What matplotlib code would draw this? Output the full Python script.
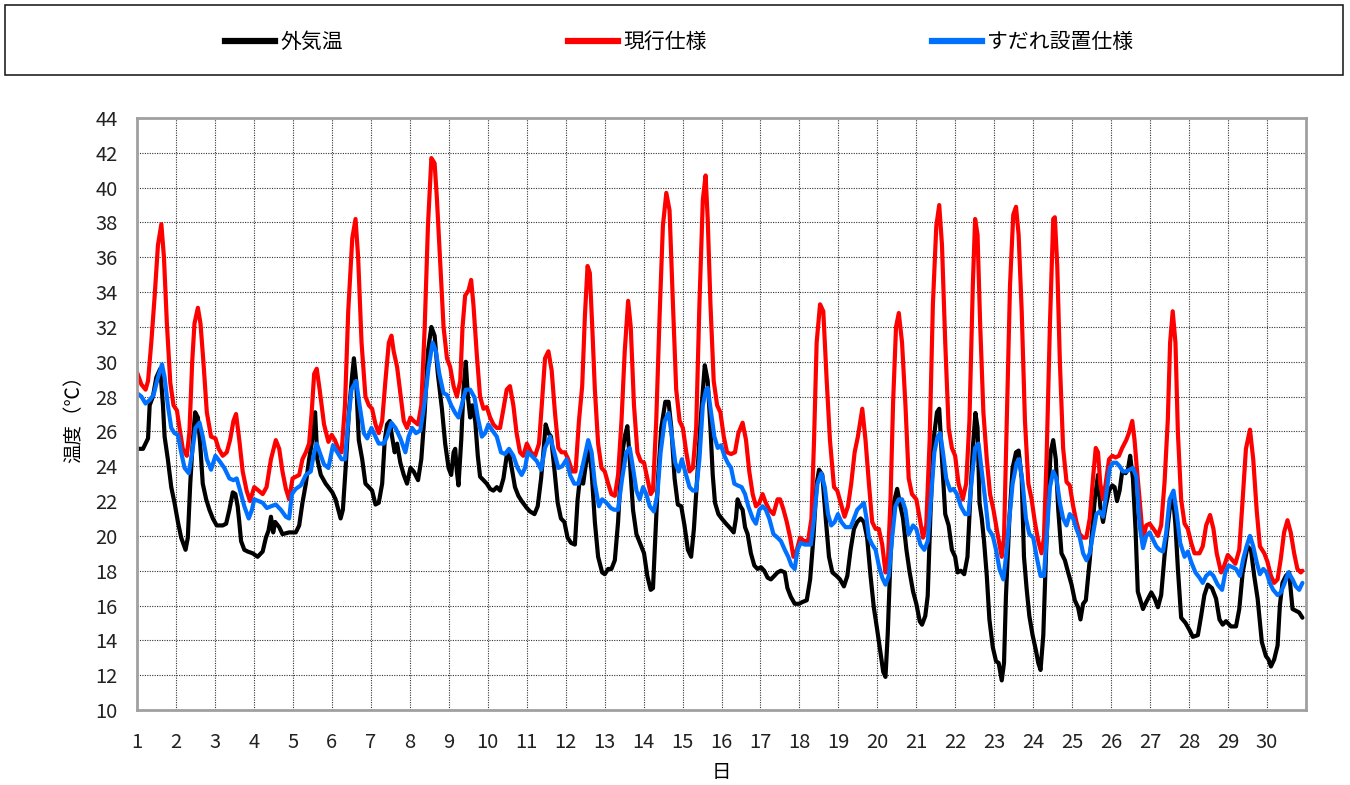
import matplotlib
matplotlib.use('Agg')
import matplotlib.pyplot as plt
from matplotlib.patches import Rectangle
from matplotlib.lines import Line2D

plt.rcParams['font.family'] = ['Noto Sans CJK JP', 'DejaVu Sans']

# ---- data: hours from day 1 00:00, temperature (°C) ----
outdoor_h = [0, 3.7, 6.8, 7.8, 9.8, 11.9, 14.3, 16.0, 17.0, 19.0, 21.1, 23.1, 25.2, 27.2, 29.9, 31.3, 32.8, 34.4, 35.8, 37.5,
             38.9, 40.5, 42.6, 44.6, 46.7, 49.1, 52.8, 54.9, 56.9, 59.0, 60.6, 62.0, 63.0, 64.1, 66.1, 68.2, 71.2, 74.3, 77.4, 79.4,
             81.0, 82.5, 83.9, 85.1, 87.6, 89.6, 93.7, 97.8, 99.9, 101.9, 104.0, 106.0, 107.6, 109.7, 111.1, 113.2, 116.2, 120.3, 122.3, 124.0,
             125.4, 126.8, 128.5, 130.5, 132.6, 133.6, 135.0, 136.6, 138.7, 140.7, 142.8, 144.8, 146.9, 148.9, 151.0, 152.6, 154.0, 155.7, 157.1, 158.7,
             160.2, 162.2, 164.3, 166.3, 168.4, 170.4, 173.1, 175.1, 177.2, 179.2, 181.3, 183.3, 185.3, 187.8, 189.8, 191.9, 193.5, 195.0, 196.0, 197.0,
             198.0, 199.7, 201.1, 202.5, 203.8, 205.2, 206.6, 208.3, 209.9, 211.3, 213.4, 215.4, 217.5, 219.5, 221.6, 223.6, 225.7, 227.7, 229.1, 230.8,
             232.8, 234.9, 236.9, 240.1, 242.1, 244.8, 246.8, 248.9, 250.3, 251.7, 253.4, 255.0, 257.0, 259.1, 261.1, 263.2, 265.2, 267.3, 269.7, 271.4,
             272.8, 274.8, 276.9, 278.3, 280.0, 282.0, 284.0, 286.5, 288.1, 290.2, 292.2, 294.3, 296.3, 298.4, 300.4, 302.0, 303.5, 305.5, 307.6, 310.2,
             312.3, 314.3, 316.4, 317.8, 319.2, 320.9, 322.9, 325.4, 327.4, 329.1, 331.1, 333.1, 335.2, 337.2, 339.3, 341.3, 343.0, 345.0, 347.1, 349.7,
             351.5, 353.2, 354.6, 356.0, 358.1, 360.1, 362.8, 364.8, 367.5, 368.9, 369.9, 371.6, 373.0, 374.5, 376.1, 378.1, 380.2, 382.2, 384.3, 386.3,
             388.4, 390.4, 392.5, 394.5, 396.6, 399.0, 400.6, 402.7, 405.1, 407.8, 409.8, 412.5, 414.6, 416.6, 418.6, 420.1, 422.1, 424.2, 426.2, 428.3,
             430.9, 433.0, 435.4, 437.5, 439.5, 441.6, 443.6, 445.7, 447.7, 449.7, 451.8, 453.8, 455.9, 457.9, 459.6, 461.0, 462.4, 464.1, 466.1, 468.2,
             469.8, 471.8, 473.9, 475.9, 478.0, 480.0, 482.1, 483.5, 485.5, 487.0, 488.6, 490.6, 492.7, 494.1, 495.8, 497.8, 499.9, 501.9, 503.9, 505.4,
             507.4, 509.5, 511.5, 513.2, 514.8, 516.4, 517.7, 518.9, 520.3, 521.7, 523.4, 525.0, 527.1, 529.1, 530.7, 532.6, 534.0, 535.2, 537.3, 539.3,
             541.4, 543.0, 544.9, 546.3, 547.9, 549.6, 551.6, 553.7, 555.1, 556.5, 558.2, 559.8, 561.2, 562.7, 564.3, 565.9, 567.4, 569.4, 571.5, 573.5,
             575.6, 577.6, 579.6, 581.1, 582.7, 584.4, 586.8, 588.4, 589.9, 591.9, 593.3, 595.0, 596.6, 598.7, 600.7, 602.1, 603.6, 605.2, 606.8, 608.9,
             610.3, 611.7, 613.4, 615.0, 616.4, 619.6, 621.6, 624.7, 626.8, 628.8, 630.8, 632.9, 636.0, 638.0, 639.6, 641.1, 643.1, 645.8, 648.2, 650.3,
             653.4, 655.4, 657.4, 659.5, 662.1, 664.6, 666.7, 668.7, 670.7, 673.8, 676.9, 678.9, 681.0, 684.0, 686.1, 688.1, 690.2, 692.8, 695.3, 696.9,
             698.4, 700.4, 702.5, 703.9, 705.5, 707.6, 709.6, 711.7, 713.7, 715.8, 717.8]
outdoor_t = [25.0, 25.0, 25.6, 27.5, 28.0, 29.1, 29.6, 27.5, 25.7, 24.4, 22.8, 21.9, 20.8, 19.9, 19.2, 19.9, 23.0, 25.5, 27.1, 26.8,
             25.3, 23.0, 22.1, 21.5, 21.0, 20.6, 20.6, 20.7, 21.5, 22.5, 22.4, 21.7, 20.8, 19.7, 19.2, 19.1, 19.0, 18.8, 19.1, 19.9,
             20.3, 21.1, 20.2, 20.8, 20.5, 20.1, 20.2, 20.2, 20.6, 21.9, 23.0, 24.4, 25.3, 27.1, 24.4, 23.5, 23.0, 22.5, 22.1, 21.5,
             21.0, 21.5, 23.9, 27.1, 29.3, 30.2, 28.9, 25.5, 24.4, 23.0, 22.8, 22.6, 21.8, 21.9, 23.0, 25.5, 26.4, 26.6, 25.7, 24.8,
             25.3, 24.2, 23.5, 23.0, 23.9, 23.7, 23.2, 24.4, 27.1, 30.6, 32.0, 31.5, 29.3, 27.3, 25.3, 23.9, 23.5, 24.8, 25.0, 23.7,
             22.9, 25.5, 28.4, 30.0, 28.0, 26.8, 27.5, 26.6, 24.6, 23.4, 23.2, 23.0, 22.7, 22.6, 22.8, 22.6, 23.3, 24.6, 24.8, 23.9,
             22.8, 22.3, 22.0, 21.6, 21.4, 21.25, 21.7, 23.3, 24.8, 26.4, 25.9, 25.7, 23.9, 21.9, 21.0, 20.8, 19.9, 19.6, 19.5, 22.1,
             23.3, 23.0, 24.4, 25.05, 23.7, 20.8, 18.8, 17.9, 17.8, 18.1, 18.1, 18.6, 20.8, 24.4, 25.7, 26.3, 24.4, 21.5, 20.1, 19.5,
             19.0, 17.7, 16.9, 17.0, 19.9, 23.3, 26.2, 27.7, 27.7, 26.2, 23.3, 21.8, 21.7, 20.6, 19.2, 18.8, 20.4, 23.3, 26.6, 29.8,
             28.9, 26.2, 23.5, 21.9, 21.25, 21.0, 20.7, 20.5, 20.2, 21.0, 22.1, 21.7, 21.5, 20.5, 20.1, 19.0, 18.3, 18.1, 18.2, 18.0,
             17.6, 17.5, 17.7, 17.9, 18.0, 17.9, 17.0, 16.5, 16.1, 16.1, 16.2, 16.3, 17.5, 19.9, 23.0, 23.8, 23.5, 21.0, 18.8, 17.9,
             17.7, 17.5, 17.1, 17.7, 19.2, 20.4, 20.8, 21.0, 20.8, 19.9, 17.7, 15.9, 14.6, 13.3, 12.2, 11.9, 14.4, 18.8, 21.9, 22.7,
             21.9, 21.0, 19.2, 17.9, 16.8, 16.1, 15.1, 14.9, 15.4, 16.55, 21.0, 25.5, 27.1, 27.3, 24.4, 21.25, 20.6, 19.2, 18.8, 17.9,
             18.0, 17.8, 18.8, 22.1, 25.05, 27.06, 26.2, 21.9, 21.0, 19.7, 17.7, 15.2, 13.6, 12.8, 12.7, 11.7, 12.7, 16.55, 21.0, 23.9,
             24.8, 24.9, 23.3, 18.8, 17.0, 15.4, 14.3, 13.4, 12.7, 12.3, 14.3, 18.8, 22.1, 24.8, 25.5, 24.4, 21.5, 19.0, 18.6, 17.9,
             17.2, 16.3, 15.9, 15.2, 16.1, 16.3, 18.6, 20.4, 22.1, 23.5, 21.7, 20.8, 21.7, 22.6, 22.9, 22.8, 22.0, 22.6, 23.7, 23.6,
             23.8, 24.6, 23.3, 20.4, 16.8, 15.8, 16.2, 16.75, 16.4, 15.9, 16.6, 18.9, 21.5, 22.4, 20.6, 18.1, 15.3, 15.0, 14.6, 14.2,
             14.3, 15.4, 16.6, 17.2, 17.0, 16.4, 15.2, 14.9, 15.1, 14.8, 14.8, 15.8, 17.9, 19.4, 19.2, 17.7, 16.4, 13.9, 13.1, 12.9,
             12.5, 12.9, 13.7, 16.0, 17.3, 17.7, 17.9, 15.8, 15.7, 15.6, 15.3]

current_h = [0, 2.7, 5.3, 6.8, 8.8, 10.9, 12.9, 15.0, 16.6, 18.4, 20.5, 22.5, 24.6, 26.2, 28.2, 30.7, 32.3, 34.0, 35.4, 37.5,
             39.1, 40.9, 43.0, 45.6, 48.3, 50.3, 52.8, 55.3, 57.3, 59.4, 61.0, 63.0, 65.1, 67.5, 69.6, 72.2, 74.9, 77.4, 79.8, 82.5,
             85.5, 87.6, 89.6, 91.7, 93.7, 95.8, 97.8, 99.9, 101.9, 104.0, 106.0, 107.6, 109.1, 110.7, 112.5, 115.2, 117.9, 119.9, 121.9, 124.0,
             126.0, 128.1, 130.1, 132.6, 134.6, 136.2, 138.3, 140.7, 142.8, 144.8, 146.9, 148.9, 151.0, 153.0, 155.1, 156.7, 158.1, 160.2, 162.2, 164.3,
             166.3, 168.4, 170.4, 173.1, 175.1, 177.2, 179.2, 181.3, 183.3, 184.7, 186.8, 188.8, 190.9, 192.9, 195.0, 197.0, 199.1, 200.5, 202.1, 204.2,
             205.8, 207.2, 209.3, 211.3, 213.4, 215.4, 217.5, 219.5, 221.6, 223.6, 225.7, 227.7, 229.7, 231.8, 233.8, 235.9, 237.9, 240.1, 242.7, 245.2,
             247.6, 249.3, 251.3, 253.4, 255.4, 257.4, 259.5, 261.5, 263.6, 265.6, 268.1, 270.1, 272.2, 274.2, 275.9, 277.5, 278.9, 280.4, 282.0, 284.0,
             286.1, 288.1, 290.2, 292.2, 294.3, 296.3, 298.4, 300.4, 302.5, 304.1, 306.1, 308.2, 310.2, 312.3, 314.3, 316.4, 317.8, 319.8, 321.9, 323.9,
             326.0, 328.0, 330.1, 332.1, 334.2, 336.2, 338.3, 340.3, 342.4, 344.4, 346.4, 348.5, 350.2, 351.5, 353.2, 355.2, 357.3, 359.3, 361.4, 363.4,
             365.9, 368.3, 370.4, 373.0, 375.1, 377.1, 379.2, 381.2, 383.3, 385.3, 387.3, 389.4, 392.0, 394.5, 396.1, 398.2, 400.2, 402.3, 404.3, 406.4,
             408.4, 410.9, 413.3, 415.4, 417.0, 418.6, 420.7, 422.7, 424.8, 426.8, 429.3, 431.3, 433.4, 435.8, 437.9, 439.9, 442.0, 444.0, 446.7, 448.7,
             450.8, 452.8, 454.9, 456.9, 459.0, 461.0, 462.4, 464.1, 465.7, 467.5, 469.2, 471.2, 473.3, 475.3, 477.3, 480.0, 482.1, 484.1, 486.1, 488.2,
             490.2, 492.3, 494.1, 495.8, 497.8, 499.9, 501.9, 503.9, 506.0, 508.6, 510.7, 512.7, 514.8, 516.2, 517.7, 519.3, 521.3, 523.4, 525.4, 527.5,
             529.5, 532.6, 534.0, 535.7, 537.7, 539.7, 541.4, 543.0, 544.9, 546.9, 549.0, 551.0, 553.0, 555.1, 557.1, 558.6, 560.2, 562.3, 564.3, 565.3,
             566.8, 568.4, 570.4, 572.5, 574.5, 576.6, 578.6, 580.6, 582.7, 584.7, 586.8, 588.8, 590.5, 591.9, 593.3, 595.0, 596.6, 598.7, 600.7, 602.7,
             604.8, 606.8, 609.3, 610.9, 613.0, 614.4, 615.8, 617.5, 619.6, 621.6, 623.7, 626.8, 628.8, 630.8, 632.9, 634.9, 636.3, 637.9, 639.6, 641.1,
             643.1, 645.2, 647.2, 649.3, 651.3, 654.4, 656.4, 658.5, 660.9, 663.0, 665.0, 667.7, 669.7, 671.8, 673.8, 676.5, 678.9, 681.0, 683.0, 685.5,
             687.5, 689.6, 691.6, 694.3, 696.3, 698.4, 700.4, 702.5, 704.5, 706.5, 708.6, 710.6, 712.7, 714.7, 716.8, 717.8]
current_t = [29.4, 28.7, 28.4, 28.9, 31.1, 33.8, 36.7, 37.9, 36.0, 32.2, 28.8, 27.5, 27.2, 26.2, 25.0, 24.6, 26.0, 30.0, 32.2, 33.1,
             32.2, 30.0, 27.1, 25.7, 25.6, 25.0, 24.6, 24.8, 25.5, 26.6, 27.0, 25.5, 23.7, 22.6, 22.0, 22.8, 22.6, 22.4, 22.8, 24.4,
             25.5, 25.0, 23.7, 22.7, 22.1, 23.3, 23.4, 23.5, 24.4, 24.8, 25.3, 27.1, 29.3, 29.6, 28.4, 26.4, 25.4, 25.8, 25.5, 25.0,
             24.8, 27.5, 32.9, 37.1, 38.2, 36.0, 31.1, 28.0, 27.5, 27.3, 26.4, 25.9, 26.6, 28.9, 31.1, 31.5, 30.6, 29.7, 28.2, 26.6,
             26.2, 26.8, 26.6, 26.4, 27.5, 32.0, 37.8, 41.7, 41.4, 39.4, 35.6, 32.0, 30.2, 29.7, 28.6, 28.0, 28.9, 32.0, 33.8, 34.1,
             34.7, 33.3, 30.4, 28.0, 27.3, 27.4, 26.8, 26.4, 26.2, 26.2, 27.3, 28.4, 28.6, 27.5, 25.9, 24.8, 24.6, 25.3, 24.8, 24.6,
             25.3, 27.5, 30.2, 30.6, 29.5, 27.1, 25.05, 24.8, 24.8, 24.4, 23.7, 23.7, 26.6, 28.6, 32.7, 35.5, 35.1, 32.0, 28.4, 25.3,
             23.9, 23.7, 23.0, 22.4, 22.3, 23.5, 26.6, 30.6, 33.5, 32.0, 27.5, 24.8, 24.3, 24.2, 23.3, 22.4, 22.6, 26.6, 32.7, 37.8,
             39.7, 38.7, 33.3, 28.4, 26.6, 26.2, 24.8, 23.7, 23.9, 26.2, 33.3, 39.3, 40.7, 38.2, 33.3, 28.9, 27.5, 27.1, 25.7, 24.8,
             24.7, 24.8, 25.9, 26.5, 25.5, 23.7, 22.4, 21.7, 21.9, 22.4, 21.9, 21.5, 21.25, 22.1, 22.1, 21.5, 20.8, 19.9, 18.8, 19.2,
             19.9, 19.7, 19.7, 21.0, 25.5, 31.1, 33.3, 32.9, 28.9, 25.5, 22.8, 22.6, 21.9, 21.1, 21.7, 23.0, 24.8, 25.7, 27.3, 25.5,
             23.0, 20.8, 20.4, 20.4, 19.5, 17.9, 18.3, 22.1, 27.7, 32.0, 32.8, 31.1, 27.5, 23.3, 22.4, 22.1, 21.0, 19.9, 20.6, 25.5,
             33.3, 37.8, 39.0, 36.7, 31.1, 26.2, 25.05, 24.6, 23.0, 22.1, 23.0, 26.6, 34.4, 38.2, 37.3, 32.2, 27.1, 24.4, 22.4, 21.5,
             20.4, 18.8, 19.9, 26.6, 34.4, 38.45, 38.9, 37.3, 32.9, 26.6, 23.0, 22.1, 20.8, 19.7, 19.0, 19.9, 24.4, 32.2, 38.2, 38.3,
             35.5, 30.0, 25.05, 23.1, 22.9, 21.7, 20.8, 20.1, 19.9, 19.9, 21.0, 23.3, 25.05, 24.8, 23.0, 22.1, 23.0, 24.4, 24.6, 24.5,
             24.6, 25.05, 25.5, 25.9, 26.6, 25.5, 23.9, 22.1, 19.8, 20.6, 20.7, 20.3, 20.0, 20.6, 23.1, 26.7, 31.1, 32.9, 31.1, 25.9,
             22.1, 20.7, 20.4, 19.6, 19.0, 19.0, 19.4, 20.6, 21.2, 20.4, 19.0, 17.9, 18.3, 18.9, 18.7, 18.4, 19.2, 22.1, 25.0, 26.1,
             24.4, 21.5, 19.4, 19.0, 18.5, 17.7, 17.3, 17.5, 18.7, 20.2, 20.9, 20.2, 19.0, 18.1, 17.9, 18.0]

sudare_h = [0, 2.7, 5.3, 7.8, 10.2, 12.9, 15.4, 17.0, 19.0, 21.1, 23.1, 25.2, 27.2, 29.3, 31.9, 34.0, 36.0, 38.5, 40.5, 43.0,
            45.6, 48.3, 50.8, 53.8, 56.9, 59.4, 61.4, 63.5, 66.1, 68.8, 70.8, 72.2, 74.9, 77.4, 80.0, 82.5, 85.5, 88.6, 91.7, 93.7,
            95.4, 97.8, 100.9, 104.0, 107.0, 109.1, 110.7, 112.5, 115.2, 117.9, 120.7, 123.4, 126.0, 128.1, 130.1, 132.1, 135.0, 137.1, 139.7, 141.8,
            144.4, 146.9, 148.9, 152.0, 154.0, 156.7, 159.2, 162.2, 165.3, 167.3, 169.4, 171.8, 174.5, 177.2, 179.6, 182.1, 184.1, 186.2, 188.8, 190.9,
            193.5, 196.0, 198.0, 200.5, 202.5, 205.2, 207.9, 209.9, 212.4, 214.4, 216.4, 218.9, 221.6, 224.2, 226.7, 229.1, 231.8, 234.4, 236.9, 239.0,
            240.7, 243.1, 246.2, 248.9, 251.3, 254.4, 257.0, 259.5, 261.9, 264.6, 266.7, 269.3, 271.8, 274.2, 277.9, 280.0, 282.0, 284.5, 286.5, 289.2,
            291.8, 293.9, 296.3, 298.8, 301.4, 303.5, 305.5, 307.6, 309.6, 311.7, 313.7, 315.8, 318.4, 320.5, 322.5, 325.0, 327.4, 329.5, 331.5, 333.6,
            335.6, 337.6, 340.3, 342.4, 344.4, 346.4, 348.5, 350.5, 351.5, 353.6, 355.6, 357.7, 359.7, 361.8, 363.8, 365.9, 367.9, 369.9, 372.4, 374.5,
            376.5, 379.2, 381.2, 383.3, 385.3, 387.3, 389.4, 392.0, 394.5, 396.6, 399.0, 401.1, 403.1, 405.1, 406.8, 408.8, 411.3, 415.0, 417.0, 419.1,
            421.5, 423.6, 425.6, 427.6, 429.7, 431.7, 433.8, 436.4, 439.5, 441.6, 443.6, 445.7, 447.7, 449.3, 450.8, 452.8, 454.9, 456.9, 459.0, 461.0,
            463.0, 465.1, 467.1, 469.2, 471.2, 473.3, 475.3, 478.0, 480.0, 482.5, 484.9, 487.0, 489.0, 491.1, 493.1, 494.7, 496.4, 498.4, 500.9, 502.9,
            505.0, 507.4, 510.1, 512.1, 514.2, 516.2, 518.3, 520.3, 522.4, 524.4, 527.1, 529.1, 531.2, 533.6, 535.2, 537.3, 539.3, 541.8, 543.4, 545.5,
            547.5, 549.6, 552.0, 554.1, 556.5, 558.6, 560.2, 562.3, 564.3, 566.3, 568.4, 570.4, 572.5, 574.5, 576.6, 578.6, 580.7, 582.7, 584.8, 586.8,
            588.8, 590.9, 592.9, 595.0, 597.0, 599.1, 601.1, 603.2, 605.2, 607.2, 609.3, 611.3, 613.4, 615.5, 617.5, 619.6, 621.6, 623.7, 625.7, 627.8,
            629.8, 631.9, 633.9, 636.0, 638.4, 640.5, 642.5, 645.2, 647.2, 649.3, 651.9, 654.4, 656.4, 658.5, 660.9, 663.0, 665.6, 668.3, 670.3, 672.4,
            674.8, 676.9, 679.3, 681.4, 683.4, 685.5, 687.5, 689.6, 691.6, 693.7, 695.7, 697.7, 699.8, 702.5, 704.5, 706.5, 709.2, 711.7, 713.7, 715.8,
            717.8]
sudare_t = [28.2, 28.0, 27.6, 27.8, 28.1, 29.1, 29.85, 29.1, 27.5, 26.2, 25.9, 25.8, 24.8, 23.9, 23.6, 24.8, 26.2, 26.5, 25.7, 24.4,
            23.8, 24.6, 24.3, 23.9, 23.3, 23.2, 23.3, 22.6, 21.7, 21.0, 21.5, 22.1, 22.0, 21.9, 21.6, 21.7, 21.8, 21.5, 21.1, 21.0,
            22.4, 22.7, 22.9, 23.5, 23.7, 24.8, 25.3, 24.8, 24.1, 23.9, 25.2, 24.8, 24.4, 24.4, 26.6, 28.4, 28.9, 27.5, 25.9, 25.6,
            26.2, 25.7, 25.3, 25.3, 25.7, 26.5, 26.2, 25.6, 24.8, 25.7, 26.2, 25.9, 26.05, 27.7, 29.7, 31.1, 30.6, 29.3, 28.2, 28.1,
            27.5, 27.06, 26.8, 27.7, 28.4, 28.4, 27.95, 26.8, 25.7, 25.9, 26.4, 26.05, 25.7, 24.8, 24.7, 25.0, 24.6, 23.9, 23.5, 23.9,
            24.8, 24.6, 24.3, 23.8, 25.05, 25.7, 24.8, 23.9, 24.0, 24.4, 23.5, 23.0, 23.0, 23.9, 25.5, 24.8, 23.0, 21.7, 22.1, 21.9,
            21.6, 21.5, 21.5, 23.3, 24.8, 25.05, 23.9, 22.6, 22.1, 22.8, 22.4, 21.7, 21.4, 22.4, 24.8, 26.6, 27.06, 25.7, 24.2, 23.7,
            24.4, 23.7, 22.8, 22.6, 22.6, 24.4, 27.5, 28.4, 28.5, 27.06, 25.7, 25.05, 25.2, 24.6, 24.2, 23.9, 23.0, 22.9, 22.8, 22.4,
            21.7, 21.0, 20.7, 21.5, 21.7, 21.5, 21.0, 20.1, 19.9, 19.7, 19.2, 18.8, 18.3, 18.1, 19.2, 19.6, 19.5, 19.5, 21.0, 23.0,
            23.6, 22.8, 21.25, 20.6, 20.8, 21.25, 20.8, 20.5, 20.5, 21.0, 21.5, 21.7, 21.9, 21.0, 19.9, 19.5, 19.2, 18.3, 17.6, 17.2,
            17.7, 19.9, 21.7, 22.1, 22.1, 21.5, 20.1, 20.6, 20.4, 19.5, 19.2, 19.7, 22.1, 24.8, 25.7, 25.9, 24.8, 23.3, 22.6, 22.7,
            22.4, 21.7, 21.25, 21.25, 23.3, 25.05, 25.3, 23.7, 22.1, 20.4, 20.0, 19.2, 18.1, 17.5, 18.8, 21.0, 23.0, 24.2, 24.4, 23.0,
            21.0, 20.1, 19.9, 18.8, 17.7, 17.7, 19.9, 22.8, 23.7, 23.3, 21.9, 21.0, 20.6, 21.25, 21.0, 20.4, 19.9, 19.0, 18.6, 19.0,
            20.1, 21.25, 21.4, 21.1, 22.4, 23.9, 24.2, 24.2, 24.0, 23.7, 23.7, 23.8, 23.9, 23.4, 20.6, 19.3, 20.0, 20.2, 19.8, 19.4,
            19.2, 19.1, 20.2, 22.1, 22.6, 21.2, 19.6, 18.8, 19.1, 18.5, 17.9, 17.6, 17.3, 17.7, 17.9, 17.7, 17.2, 16.9, 17.9, 18.3,
            18.2, 18.1, 17.7, 18.7, 19.4, 20.0, 19.4, 18.5, 17.8, 18.1, 17.9, 17.3, 16.9, 16.6, 16.75, 17.2, 17.9, 17.5, 17.1, 16.9,
            17.3]

series_names = ['外気温', '現行仕様', 'すだれ設置仕様']
series_colors = ['#000000', '#FF0000', '#0070FF']
day_ticks = list(range(1, 31))
temp_ticks = list(range(10, 45, 2))

W, H = 1350, 785
fig = plt.figure(figsize=(W / 100, H / 100), dpi=100)
ax = fig.add_axes([137 / W, 1 - 710 / H, (1306 - 137) / W, (710 - 118) / H])

def to_day(hours):
    return [1 + h / 24.0 for h in hours]

for hs, ts, c in [(outdoor_h, outdoor_t, series_colors[0]),
                  (current_h, current_t, series_colors[1]),
                  (sudare_h, sudare_t, series_colors[2])]:
    ax.plot(to_day(hs), ts, color=c, lw=3.0, solid_joinstyle='round', solid_capstyle='round')

ax.set_xlim(1, 31)
ax.set_ylim(10, 44)
ax.set_xticks(day_ticks)
ax.set_yticks(temp_ticks)
ax.grid(True, color='#333333', linestyle=(0, (1, 1.2)), linewidth=0.8)
ax.set_axisbelow(True)
ax.tick_params(axis='both', length=0, labelsize=14.5, colors='#222222')
ax.tick_params(axis='y', pad=14)
ax.tick_params(axis='x', pad=16)
for s in ax.spines.values():
    s.set_color('#A0A0A0')
    s.set_linewidth(2)
ax.set_ylabel('温度（℃）', fontsize=14, labelpad=8)
ax.set_xlabel('日', fontsize=14, labelpad=6)

# legend box
fig.patches.append(Rectangle((5 / W, 1 - 75 / H), (1343 - 5) / W, 70 / H,
                             transform=fig.transFigure, fill=False,
                             edgecolor='#222222', linewidth=1.2))
handles = [Line2D([0], [0], color=c, lw=4.5) for c in series_colors]
fig.legend(handles, series_names, loc='center', bbox_to_anchor=(0.503, 1 - 42 / H),
           ncol=3, frameon=False, fontsize=15, handlelength=2.4, handletextpad=0.25,
           columnspacing=10.8)

fig.savefig('out.png', dpi=100)
